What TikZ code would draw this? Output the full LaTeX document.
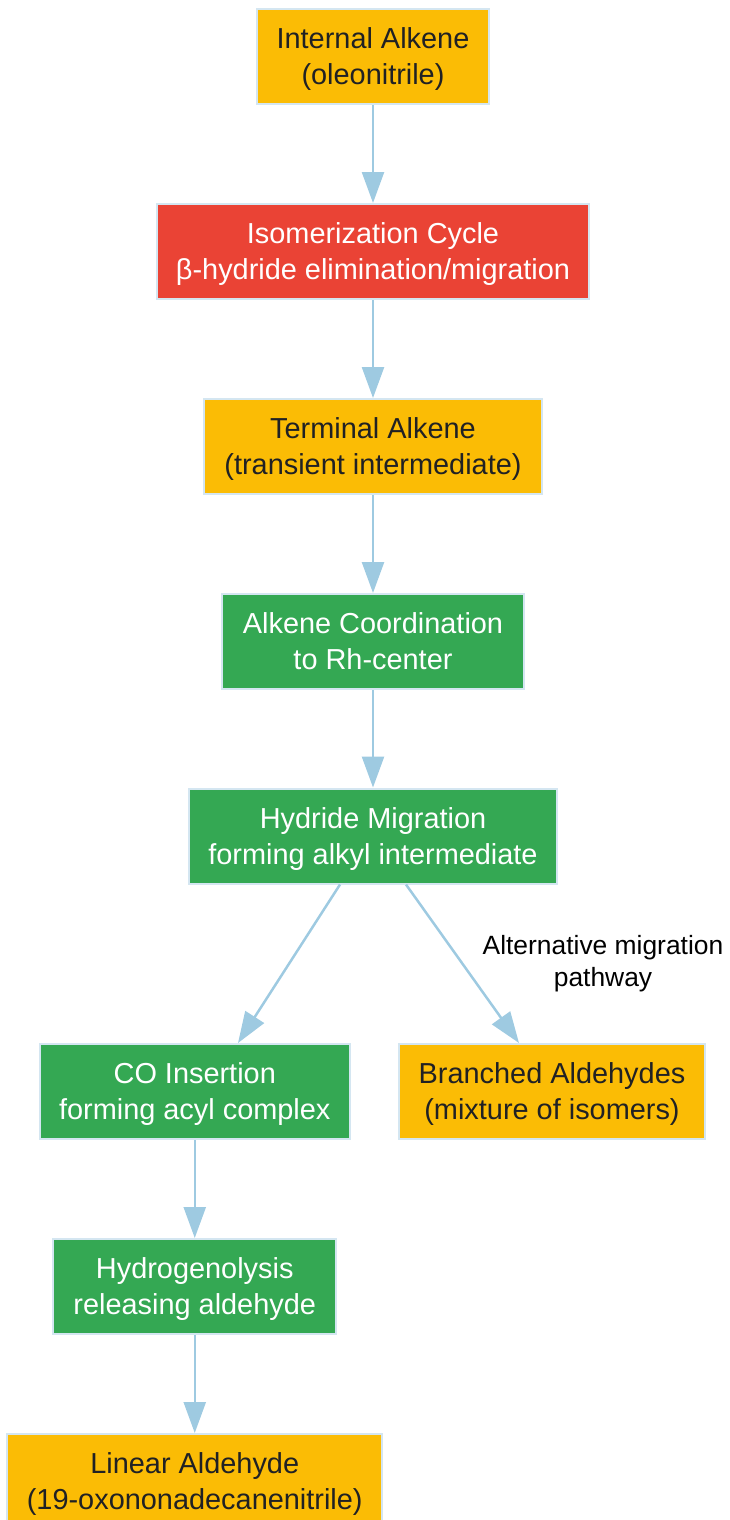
\documentclass[tikz,border=0pt]{standalone}
\usepackage{fontspec}
\setmainfont{Liberation Sans}
\usetikzlibrary{arrows.meta}
\definecolor{gyellow}{HTML}{FBBC05}
\definecolor{gred}{HTML}{EA4335}
\definecolor{ggreen}{HTML}{34A853}
\definecolor{gtext}{HTML}{202124}
\definecolor{edgeblue}{HTML}{9ECAE1}
\definecolor{boxborder}{HTML}{D4E6F1}
\tikzset{
  box/.style={draw=boxborder, line width=2pt, rectangle, minimum height=95pt, align=center,
    inner sep=0pt, font=\fontsize{28.9}{36}\selectfont, text depth=-1pt},
  yellowbox/.style={box, fill=gyellow, text=gtext},
  redbox/.style={box, fill=gred, text=white},
  greenbox/.style={box, fill=ggreen, text=white},
  flow/.style={draw=edgeblue, line width=2.5pt, -{Triangle[length=31pt,width=22pt]}},
  lbl/.style={font=\fontsize{26.4}{32}\selectfont, text=black, align=center, inner sep=0pt}
}
\begin{document}
\begin{tikzpicture}[x=1pt,y=-1pt]
\useasboundingbox (0,0) rectangle (729,1520);
\node[yellowbox, minimum width=232pt] (n1) at (373,56.5) {Internal Alkene\\(oleonitrile)};
\node[redbox, minimum width=432pt] (n2) at (373,251.5) {Isomerization Cycle\\β-hydride elimination/migration};
\node[yellowbox, minimum width=338pt] (n3) at (373,446.5) {Terminal Alkene\\(transient intermediate)};
\node[greenbox, minimum width=302pt] (n4) at (373,641.5) {Alkene Coordination\\to Rh-center};
\node[greenbox, minimum width=368pt] (n5) at (373,836) {Hydride Migration\\forming alkyl intermediate};
\node[greenbox, minimum width=310pt] (n6) at (194.75,1091.5) {CO Insertion\\forming acyl complex};
\node[yellowbox, minimum width=306pt] (n7) at (552,1091.5) {Branched Aldehydes\\(mixture of isomers)};
\node[greenbox, minimum width=283pt] (n8) at (194.75,1286.5) {Hydrogenolysis\\releasing aldehyde};
\node[yellowbox, minimum width=375pt] (n9) at (194.75,1481.5) {Linear Aldehyde\\(19-oxononadecanenitrile)};
\draw[flow] (n1) -- (n2);
\draw[flow] (n2) -- (n3);
\draw[flow] (n3) -- (n4);
\draw[flow] (n4) -- (n5);
\draw[flow] (n5.south -| 340,0) -- (n6.north -| 238,0);
\draw[flow] (n5.south -| 406,0) -- (n7.north -| 519,0);
\node[lbl] (l1) at (603,964) {Alternative migration\\pathway};
\draw[flow] (n6) -- (n8);
\draw[flow] (n8) -- (n9);
\end{tikzpicture}
\end{document}
